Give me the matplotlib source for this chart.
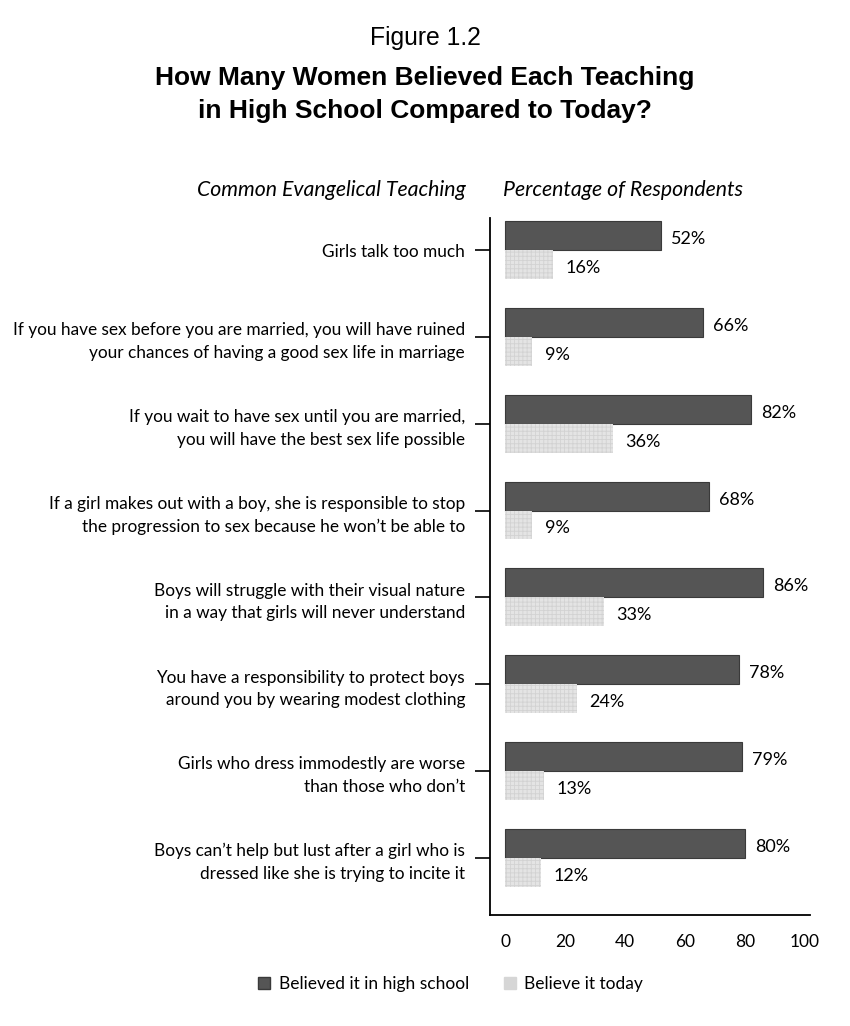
import matplotlib.pyplot as plt
from matplotlib.patches import Patch

teachings = [
    "Girls talk too much",
    "If you have sex before you are married, you will have ruined\nyour chances of having a good sex life in marriage",
    "If you wait to have sex until you are married,\nyou will have the best sex life possible",
    "If a girl makes out with a boy, she is responsible to stop\nthe progression to sex because he won\u2019t be able to",
    "Boys will struggle with their visual nature\nin a way that girls will never understand",
    "You have a responsibility to protect boys\naround you by wearing modest clothing",
    "Girls who dress immodestly are worse\nthan those who don\u2019t",
    "Boys can\u2019t help but lust after a girl who is\ndressed like she is trying to incite it",
]
high_school = [52, 66, 82, 68, 86, 78, 79, 80]
today = [16, 9, 36, 9, 33, 24, 13, 12]
xticks = [0, 20, 40, 60, 80, 100]

DARK = '#555555'
LIGHT = '#e4e4e4'
BODY = 'Lato'

fig = plt.figure(figsize=(8.5, 10.26), dpi=100)
ax = fig.add_axes([0.5765, 0.1082, 0.3765, 0.6793])

pos = list(range(len(teachings)))
h = 0.333
ax.barh([p - h / 2 for p in pos], high_school, height=h, color=DARK,
        edgecolor='#3a3a3a', linewidth=0.8)
plt.rcParams['hatch.linewidth'] = 0.6
ax.barh([p + h / 2 for p in pos], today, height=h, color=LIGHT,
        edgecolor='#d2d2d2', hatch='++++', linewidth=0)

for p, v in zip(pos, high_school):
    ax.text(v + 3.3, p - h / 2 + 0.04, f"{v}%", va='center', ha='left',
            fontsize=13, family=BODY)
for p, v in zip(pos, today):
    ax.text(v + 4.2, p + h / 2 + 0.04, f"{v}%", va='center', ha='left',
            fontsize=13, family=BODY)

ax.set_xlim(-5, 101.7)
ax.set_ylim(len(teachings) - 1 + 0.66, -0.37)
ax.set_yticks(pos)
ax.set_yticklabels(teachings, fontsize=12.4, family=BODY, linespacing=1.5)
ax.set_xticks(xticks)
ax.set_xticklabels([str(t) for t in xticks], fontsize=12.5, family=BODY)
ax.tick_params(axis='y', length=11, width=1.2, pad=7)
ax.tick_params(axis='x', length=0, pad=14)
for s in ['top', 'right']:
    ax.spines[s].set_visible(False)
ax.spines['left'].set_linewidth(1.3)
ax.spines['bottom'].set_linewidth(1.3)

fig.text(0.5, 0.963, "Figure 1.2", ha='center', va='center', fontsize=17.8,
         family='Liberation Sans')
fig.text(0.5, 0.908, "How Many Women Believed Each Teaching\nin High School Compared to Today?",
         ha='center', va='center', fontsize=19, fontweight='bold',
         family='Liberation Sans', linespacing=1.5)
fig.text(0.548, 0.815, "Common Evangelical Teaching", ha='right', va='center',
         fontsize=15.3, style='italic', family=BODY)
fig.text(0.592, 0.815, "Percentage of Respondents", ha='left', va='center',
         fontsize=15.3, style='italic', family=BODY)

handles = [Patch(facecolor=DARK, edgecolor='#3a3a3a'),
           Patch(facecolor='#d6d6d6', edgecolor='#d6d6d6')]
fig.legend(handles, ["Believed it in high school", "Believe it today"],
           loc='center', bbox_to_anchor=(0.53, 0.041), ncol=2, frameon=False,
           prop={'family': BODY, 'size': 12.5}, handlelength=0.7,
           handleheight=0.7, handletextpad=0.5, columnspacing=2.0)

fig.savefig('out.png', dpi=100)
